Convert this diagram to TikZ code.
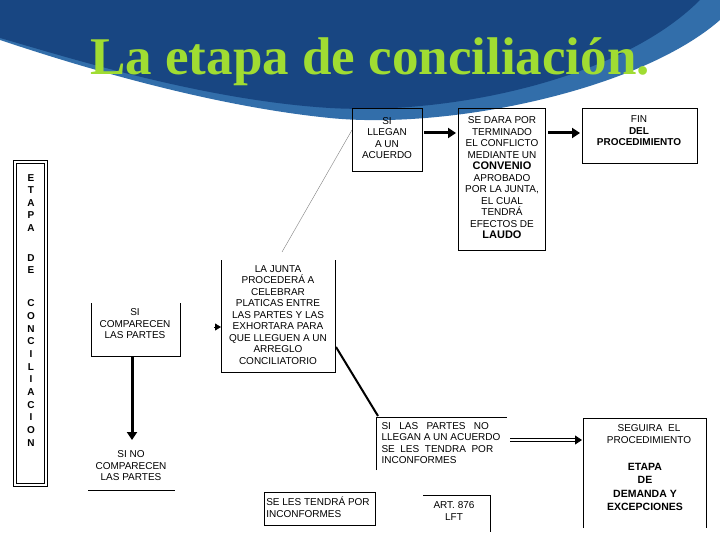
\documentclass[tikz,border=0pt]{standalone}
\usepackage{fontspec}
\setmainfont{Liberation Sans}
\newfontfamily\titlefont{Liberation Serif}
\usetikzlibrary{arrows.meta}
\definecolor{deepblue}{RGB}{24,70,130}
\definecolor{midblue}{RGB}{50,110,170}
\definecolor{titlegreen}{RGB}{160,220,50}
\tikzset{
    boxtext/.style={align=center, font=\fontsize{10}{11.5}\selectfont, inner sep=0pt},
    boldtext/.style={font=\bfseries\fontsize{10.5}{12.5}\selectfont},
    boxline/.style={draw=black, line width=0.8pt},
    bigarrow/.style={line width=3pt, -{Triangle[length=8pt,width=10pt]}},
}
\begin{document}
\begin{tikzpicture}[x=1pt, y=-1pt, >=latex]
    \useasboundingbox (0,0) rectangle (720,540);
    \fill[white] (0,0) rectangle (720,540);

    % header swoosh
    \fill[midblue] (0,0) -- (720,0) -- (720,20) .. controls (640,90) and (450,130) .. (330,118)
        .. controls (200,105) and (60,60) .. (0,40) -- cycle;
    \fill[deepblue] (0,0) -- (700,0) .. controls (620,80) and (450,115) .. (330,108)
        .. controls (200,100) and (60,55) .. (0,38) -- cycle;
    \node[font=\titlefont\bfseries\fontsize{53}{53}\selectfont, text=titlegreen] (title) at (370,62) {La etapa de conciliación.};

    % left column
    \draw[boxline, double, double distance=1.5pt] (15,162) rectangle (46,485);
    \node[boxtext, font=\bfseries\fontsize{10}{12.5}\selectfont] (etapa) at (31,203) {E\\T\\A\\P\\A};
    \node[boxtext, font=\bfseries\fontsize{10}{12.5}\selectfont] (de) at (31,264) {D\\E};
    \node[boxtext, font=\bfseries\fontsize{10}{12.7}\selectfont] (concil) at (31,373) {C\\O\\N\\C\\I\\L\\I\\A\\C\\I\\O\\N};

    % boxes
    \draw[boxline] (91,303) -- (91,356) -- (180,356) -- (180,303);
    \node[boxtext] (comparecen) at (135,324) {SI\\COMPARECEN\\LAS PARTES};
    \coordinate (comparecenbot) at (132,357);

    \node[boxtext] (nocomparecen) at (131,466) {SI NO\\COMPARECEN\\LAS PARTES};
    \draw[boxline] (88,490) -- (175,490);

    \draw[boxline] (221,260) -- (221,372) -- (335,372) -- (335,260);
    \node[boxtext] (junta) at (278,315) {LA JUNTA\\PROCEDERÁ A\\CELEBRAR\\PLATICAS ENTRE\\LAS PARTES Y LAS\\EXHORTARA PARA\\QUE LLEGUEN A UN\\ARREGLO\\CONCILIATORIO};

    \draw[boxline] (352,108) rectangle (422,171);
    \node[boxtext] (llegan) at (387,138) {SI\\LLEGAN\\A UN\\ACUERDO};

    \draw[boxline] (458,108) rectangle (545,250);
    \node[boxtext] (convenio) at (502,178) {SE DARA POR\\TERMINADO\\EL CONFLICTO\\MEDIANTE UN\\{\bfseries\fontsize{11}{12.5}\selectfont CONVENIO}\\APROBADO\\POR LA JUNTA,\\EL CUAL\\TENDRÁ\\EFECTOS DE\\{\bfseries\fontsize{11}{12.5}\selectfont LAUDO}};

    \draw[boxline] (582,108) rectangle (697,163);
    \node[boxtext] (fin) at (639,131) {FIN\\{\bfseries DEL}\\{\bfseries PROCEDIMIENTO}};

    \draw[boxline] (376,470) -- (376,417) -- (507,417);
    \node[boxtext, align=left] (nollegan) at (441,443) {SI \ \ LAS \ \ PARTES \ \ NO\\LLEGAN A UN ACUERDO\\SE \ LES \ TENDRA \ POR\\INCONFORMES};

    \draw[boxline] (583,528) -- (583,418) -- (706,418) -- (706,528);
    \node[boxtext] (seguira) at (649,434) {SEGUIRA \ EL\\PROCEDIMIENTO};
    \node[boxtext, boldtext, font=\bfseries\fontsize{10.5}{13.5}\selectfont] (demanda) at (645,487) {ETAPA\\DE\\DEMANDA Y\\EXCEPCIONES};

    \draw[boxline] (264,492) rectangle (375,525);
    \node[boxtext, align=left] (inconformes) at (318,507) {SE LES TENDRÁ POR\\INCONFORMES};

    \draw[boxline] (423,495) -- (490,495) -- (490,532);
    \node[boxtext] (art) at (454,511) {ART. 876\\LFT};

    % connectors
    \draw[bigarrow] (comparecenbot) -- (132,440);
    \draw[thick, -{Triangle[length=6pt,width=7pt]}] (214,327) -- (221,327);
    \draw[gray, thin] (282,252) -- (352,130);
    \draw[bigarrow] (424,133) -- (456,133);
    \draw[bigarrow] (548,133) -- (580,133);
    \draw[line width=2pt] (336,347) -- (378,416);
    \draw[double, thick, double distance=2pt, -{Triangle[length=7pt,width=9pt]}] (510,440) -- (582,440);
\end{tikzpicture}
\end{document}
